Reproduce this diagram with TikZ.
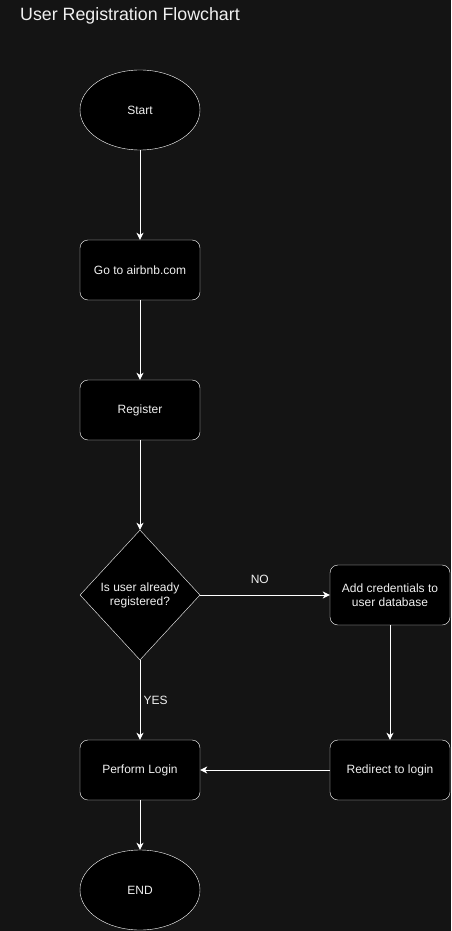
\documentclass[tikz,border=0pt]{standalone}
\usepackage{fontspec}
\setmainfont{Liberation Sans}
\usepackage{tikz}
\usetikzlibrary{arrows.meta,calc}
\usetikzlibrary{positioning,shapes.geometric}

\definecolor{bgdark}{HTML}{141414}
\definecolor{txtlight}{HTML}{F0F0F0}

\begin{document}
\begin{tikzpicture}[
  term/.style={ellipse, draw=white, fill=black, text=txtlight, minimum width=120pt, minimum height=80pt, inner sep=0pt, font=\fontsize{12pt}{14pt}\selectfont},
  box/.style={rectangle, rounded corners=8pt, draw=white, fill=black, text=txtlight, minimum width=120pt, minimum height=60pt, inner sep=0pt, align=center, font=\fontsize{12pt}{14pt}\selectfont},
  test/.style={diamond, draw=white, fill=black, text=txtlight, minimum width=120pt, minimum height=130pt, inner sep=0pt, align=center, font=\fontsize{12pt}{14pt}\selectfont},
  lbl/.style={text=txtlight, inner sep=3pt, font=\fontsize{12pt}{14pt}\selectfont},
  flow/.style={draw=white, line width=1pt, -{Stealth[length=7pt,width=7pt,inset=2pt]}},
  node distance=140pt
  ]

  % Background and frame
  \fill[bgdark] (0,0) rectangle (451pt,-931pt);
  \useasboundingbox (0,0) rectangle (451pt,-931pt);

  % Title
  \node[text=txtlight, inner sep=0pt, anchor=base west, font=\fontsize{17.8pt}{21pt}\selectfont] (title) at (20pt,-21pt) {User Registration Flowchart};

  % Main column
  \node[term] (start) at (140pt,-110pt) {Start};
  \node[box, below of=start, node distance=160pt] (goto) {Go to airbnb.com};
  \node[box, below of=goto] (register) {Register};
  \node[test, below of=register, node distance=185pt] (isreg) {Is user already\\registered?};
  \node[box, below of=isreg, node distance=175pt] (login) {Perform Login};
  \node[term, below of=login, node distance=120pt] (finish) {END};

  % Right column
  \node[box, right of=isreg, node distance=250pt] (addcred) {Add credentials to\\user database};
  \node[box, below of=addcred, node distance=175pt] (redirect) {Redirect to login};

  % Connections
  \draw[flow] (start) -- (goto);
  \draw[flow] (goto) -- (register);
  \draw[flow] (register) -- (isreg);
  \draw[flow] (isreg) -- node[lbl, above=8pt, pos=0.46] (no) {NO} (addcred);
  \draw[flow] (isreg) -- node[lbl, right, midway] (yes) {YES} (login);
  \draw[flow] (addcred) -- (redirect);
  \draw[flow] (redirect) -- (login);
  \draw[flow] (login) -- (finish);

\end{tikzpicture}
\end{document}
